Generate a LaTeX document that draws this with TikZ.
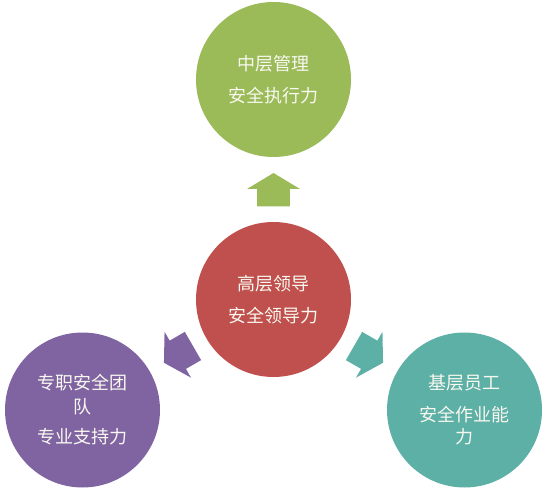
\documentclass[tikz,border=0pt]{standalone}
\usepackage{fontspec}
\newfontfamily\cjk{Noto Sans CJK SC}
\definecolor{cgreen}{HTML}{9BBB59}
\definecolor{cred}{HTML}{C0504D}
\definecolor{cpurple}{HTML}{8064A2}
\definecolor{cteal}{HTML}{5DB0A6}
\definecolor{ctext}{HTML}{F8F8F0}
\tikzset{
  bubble/.style={circle, minimum size=155pt, inner sep=0pt, align=center,
    text=ctext, font=\cjk\fontsize{18}{23}\selectfont},
}
\begin{document}
\begin{tikzpicture}[x=1pt,y=1pt]
\useasboundingbox (0,0) rectangle (548,490);
\node[bubble, fill=cred] (red) at (273.5,190.5) {高层领导\\[9pt]安全领导力};
\node[bubble, fill=cgreen] (top) at (273.5,410.5) {中层管理\\[9pt]安全执行力};
\node[bubble, fill=cpurple] (left) at (82.5,80) {专职安全团\\[1pt]队\\[7pt]专业支持力};
\node[bubble, fill=cteal] (right) at (464.5,80) {基层员工\\[9pt]安全作业能\\[-1pt]力};
\foreach \ang/\col in {90/cgreen, 210/cpurple, -30/cteal}{
  \begin{scope}[shift={(red.center)}, rotate=\ang]
    \fill[\col] (93,-16.3) -- (110.5,-16.3) -- (110.5,-26.5) -- (126.5,0)
      -- (110.5,26.5) -- (110.5,16.3) -- (93,16.3) -- cycle;
  \end{scope}
}
\end{tikzpicture}
\end{document}
